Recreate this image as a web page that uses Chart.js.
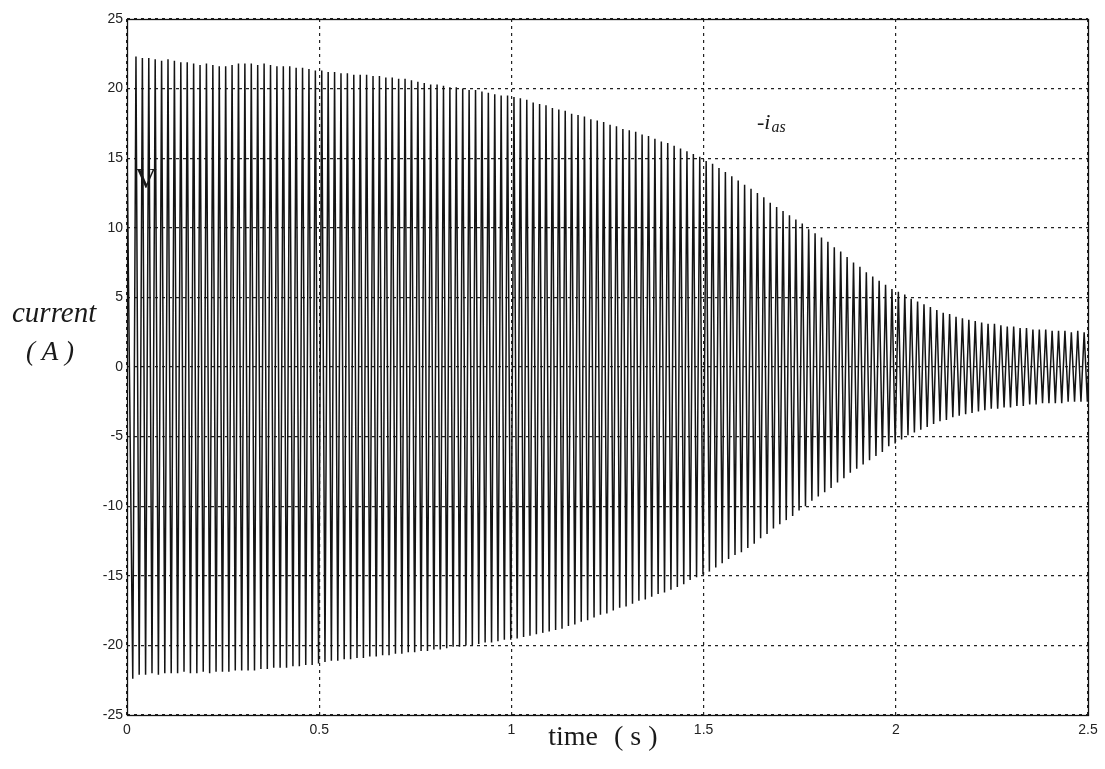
<!DOCTYPE html>
<html>
<head>
<meta charset="utf-8">
<title>current vs time</title>
<script src="https://cdn.jsdelivr.net/npm/chart.js@4.4.1/dist/chart.umd.min.js"></script>
<style>
  html, body { margin: 0; padding: 0; background: #fff; }
  #wrap { width: 1105px; height: 769px; position: relative; }
</style>
</head>
<body>
<div id="wrap"><canvas id="currentChart" width="1105" height="769"></canvas></div>
<script>
// tick labels
const xTicks = [0, 0.5, 1, 1.5, 2, 2.5];
const yTicks = [-25, -20, -15, -10, -5, 0, 5, 10, 15, 20, 25];

// supply frequency (one positive + one negative peak per cycle)
const supplyHz = 60;
const startValue = 16;

// positive peaks, one per cycle (6 per 0.1 s)
const posPeaks = [
  22.3, 22.2, 22.2, 22.1, 22.0, 22.1,
  22.0, 21.9, 21.9, 21.8, 21.7, 21.8,
  21.7, 21.6, 21.6, 21.7, 21.8, 21.8,
  21.8, 21.7, 21.8, 21.7, 21.6, 21.6,
  21.6, 21.5, 21.5, 21.4, 21.3, 21.3,
  21.2, 21.2, 21.1, 21.1, 21.0, 21.0,
  21.0, 20.9, 20.9, 20.8, 20.8, 20.7,
  20.7, 20.6, 20.5, 20.4, 20.3, 20.3,
  20.2, 20.1, 20.1, 20.0, 19.9, 19.9,
  19.8, 19.7, 19.6, 19.5, 19.5, 19.4,
  19.3, 19.2, 19.0, 18.9, 18.8, 18.6,
  18.5, 18.4, 18.2, 18.1, 18.0, 17.8,
  17.7, 17.6, 17.4, 17.3, 17.1, 17.0,
  16.9, 16.7, 16.6, 16.4, 16.2, 16.1,
  15.9, 15.7, 15.5, 15.3, 15.1, 14.8,
  14.6, 14.3, 14.0, 13.7, 13.4, 13.1,
  12.8, 12.5, 12.2, 11.8, 11.5, 11.2,
  10.9, 10.6, 10.3, 9.9, 9.6, 9.3,
  9.0, 8.6, 8.3, 7.9, 7.5, 7.2,
  6.8, 6.5, 6.2, 5.9, 5.6, 5.4,
  5.2, 4.9, 4.7, 4.5, 4.3, 4.1,
  3.9, 3.8, 3.6, 3.5, 3.4, 3.3,
  3.2, 3.1, 3.1, 3.0, 2.9, 2.9,
  2.8, 2.8, 2.7, 2.7, 2.7, 2.6,
  2.6, 2.6, 2.5, 2.6, 2.5, 2.5
];

// negative peaks, one per cycle
const negPeaks = [
  -22.4, -22.1, -22.1, -22.0, -22.1, -22.0,
  -22.0, -22.0, -21.9, -22.0, -22.0, -21.9,
  -22.0, -21.9, -21.9, -21.9, -21.8, -21.8,
  -21.8, -21.8, -21.7, -21.7, -21.6, -21.6,
  -21.6, -21.5, -21.5, -21.4, -21.4, -21.3,
  -21.2, -21.1, -21.1, -21.0, -21.0, -20.9,
  -20.9, -20.8, -20.8, -20.7, -20.7, -20.6,
  -20.6, -20.5, -20.5, -20.4, -20.4, -20.3,
  -20.3, -20.2, -20.1, -20.1, -20.0, -20.0,
  -19.9, -19.8, -19.8, -19.7, -19.6, -19.6,
  -19.5, -19.4, -19.3, -19.2, -19.1, -19.0,
  -18.9, -18.8, -18.6, -18.5, -18.3, -18.2,
  -18.0, -17.8, -17.7, -17.5, -17.3, -17.2,
  -17.0, -16.8, -16.7, -16.5, -16.3, -16.2,
  -16.0, -15.8, -15.6, -15.3, -15.1, -14.9,
  -14.7, -14.4, -14.1, -13.8, -13.5, -13.3,
  -13.0, -12.7, -12.3, -12.0, -11.6, -11.3,
  -11.0, -10.7, -10.3, -10.0, -9.6, -9.3,
  -9.0, -8.7, -8.3, -8.0, -7.6, -7.3,
  -7.0, -6.7, -6.4, -6.1, -5.7, -5.5,
  -5.2, -4.9, -4.7, -4.5, -4.3, -4.1,
  -3.9, -3.8, -3.6, -3.5, -3.4, -3.3,
  -3.2, -3.1, -3.0, -3.0, -2.9, -2.9,
  -2.8, -2.8, -2.7, -2.7, -2.6, -2.6,
  -2.6, -2.6, -2.5, -2.5, -2.5, -2.5
];

// trace: trough then crest in each cycle
const points = [{ x: 0, y: startValue }];
for (let k = 0; k < posPeaks.length; k++) {
  points.push({ x: (k + 0.9) / supplyHz, y: negPeaks[k] });
  points.push({ x: (k + 1.4) / supplyHz, y: posPeaks[k] });
}

const tickFont = { family: '"Liberation Sans", Arial, sans-serif', size: 14 };
const tickColor = '#222';

const labelsPlugin = {
  id: 'labels',
  afterDraw(chart) {
    const ctx = chart.ctx;
    const a = chart.chartArea;
    ctx.save();
    // frame
    ctx.strokeStyle = '#111';
    ctx.lineWidth = 1.3;
    ctx.setLineDash([]);
    ctx.strokeRect(Math.round(a.left) + 0.5, Math.round(a.top) + 0.5,
      Math.round(a.right - a.left), Math.round(a.bottom - a.top));

    ctx.fillStyle = '#1a1a1a';
    ctx.textBaseline = 'alphabetic';
    ctx.textAlign = 'left';
    ctx.font = 'italic 29px "Liberation Serif", "Times New Roman", serif';
    ctx.fillText('current', 12, 322);
    ctx.textAlign = 'center';
    ctx.font = 'italic 27px "Liberation Serif", "Times New Roman", serif';
    ctx.fillText('( A )', 50, 360);

    ctx.textAlign = 'left';
    ctx.font = '30px "Liberation Serif", "Times New Roman", serif';
    ctx.fillText('V', 135, 188);

    ctx.font = 'italic 22px "Liberation Serif", "Times New Roman", serif';
    ctx.fillText('-i', 757, 129);
    const w = ctx.measureText('-i').width;
    ctx.font = 'italic 16px "Liberation Serif", "Times New Roman", serif';
    ctx.fillText('as', 757 + w + 1, 132);

    ctx.font = '28px "Liberation Serif", "Times New Roman", serif';
    ctx.textAlign = 'right';
    ctx.fillText('time', 598, 745);
    ctx.textAlign = 'left';
    ctx.fillText('( s )', 614, 745);
    ctx.restore();
  }
};

new Chart(document.getElementById('currentChart').getContext('2d'), {
  type: 'line',
  data: {
    datasets: [{
      label: '-ias',
      data: points,
      borderColor: '#141414',
      borderWidth: 1.5,
      pointRadius: 0,
      tension: 0,
      fill: false
    }]
  },
  options: {
    responsive: false,
    animation: false,
    devicePixelRatio: 1,
    layout: { padding: { left: 0, top: 19, right: 17, bottom: 0 } },
    plugins: {
      legend: { display: false },
      tooltip: { enabled: false }
    },
    scales: {
      x: {
        type: 'linear',
        min: 0,
        max: 2.5,
        afterBuildTicks: s => { s.ticks = xTicks.map(v => ({ value: v })); },
        afterFit: s => { s.height = 54; },
        grid: { color: '#222', lineWidth: 1.2, drawTicks: false },
        border: { display: false, dash: [3, 4] },
        ticks: { font: tickFont, color: tickColor, padding: 7, maxRotation: 0, autoSkip: false,
          callback: v => String(v) }
      },
      y: {
        type: 'linear',
        min: -25,
        max: 25,
        afterBuildTicks: s => { s.ticks = yTicks.map(v => ({ value: v })); },
        afterFit: s => { s.width = 127; },
        grid: { color: '#222', lineWidth: 1.2, drawTicks: false },
        border: { display: false, dash: [3, 4] },
        ticks: { font: tickFont, color: tickColor, padding: 4, autoSkip: false,
          callback: v => String(v) }
      }
    }
  },
  plugins: [labelsPlugin]
});
</script>
</body>
</html>
